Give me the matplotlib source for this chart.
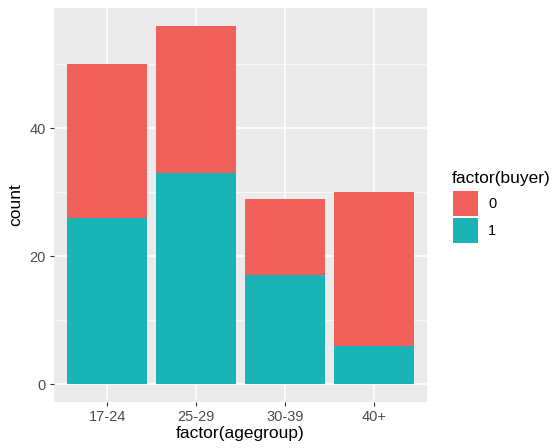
import matplotlib
matplotlib.use("Agg")
import matplotlib.pyplot as plt
from matplotlib.patches import Rectangle
import numpy as np

# data
agegroups = ["17-24", "25-29", "30-39", "40+"]
buyer1 = [26, 33, 17, 6]
buyer0 = [24, 23, 12, 24]
levels = ["0", "1"]
col0 = "#F2605C"
col1 = "#1AB3B6"

plt.rcParams["font.family"] = ["Liberation Sans", "DejaVu Sans"]

W, H = 552, 448
fig = plt.figure(figsize=(W / 100, H / 100), dpi=100)
ax = fig.add_axes([54 / W, 46 / H, 373 / W, 394 / H])
ax.set_facecolor("#EBEBEB")

x = np.arange(1, len(agegroups) + 1)
ax.bar(x, buyer1, width=0.9, color=col1, zorder=3)
ax.bar(x, buyer0, width=0.9, bottom=buyer1, color=col0, zorder=3)

total = max(a + b for a, b in zip(buyer0, buyer1))
ax.set_xlim(0.4, len(agegroups) + 0.6)
ax.set_ylim(-0.05 * total, total * 1.05)

ax.set_xticks(x)
ax.set_xticklabels(agegroups)
ax.set_yticks([0, 20, 40])
ax.set_yticks([10, 30, 50], minor=True)
ax.grid(which="major", color="white", linewidth=1.1, zorder=0)
ax.grid(which="minor", color="white", linewidth=0.5, zorder=0)
ax.tick_params(which="major", length=3, color="#333333", labelcolor="#4D4D4D", labelsize=10.5, width=0.8, pad=3)
ax.tick_params(which="minor", length=0)
for s in ax.spines.values():
    s.set_visible(False)

ax.set_xlabel("factor(agegroup)", fontsize=12.5, labelpad=1)
ax.set_ylabel("count", fontsize=12.5, labelpad=4)

# legend drawn by hand, ggplot-style square keys
fig.text(452 / W, 1 - 183 / H, "factor(buyer)", fontsize=12.5, ha="left", va="baseline")
key = 25
for i, (lab, c) in enumerate(zip(levels, [col0, col1])):
    top = 191 + i * 27
    fig.add_artist(Rectangle((453 / W, 1 - (top + key) / H), key / W, key / H,
                             transform=fig.transFigure, facecolor=c, edgecolor="none"))
    fig.text(488 / W, 1 - (top + key / 2) / H, lab, fontsize=10.5, ha="left", va="center")

fig.savefig("out.png", dpi=100)
